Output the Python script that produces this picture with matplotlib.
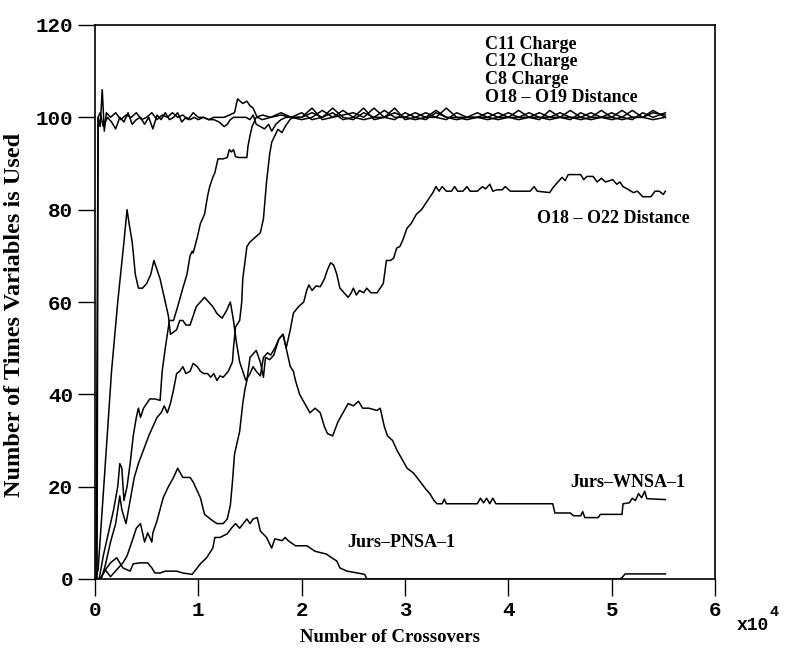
import matplotlib
matplotlib.use("Agg")
import matplotlib.pyplot as plt

# ---- data (x in units of 10^4 crossovers) ----
c11_x = [0.00, 0.01, 0.03, 0.05, 0.07, 0.09, 0.11, 0.15, 0.20, 0.25, 0.30, 0.35, 0.40, 0.45,
         0.50, 0.55, 0.60, 0.65, 0.70, 0.75, 0.80, 0.85, 0.90, 0.95, 1.00, 1.05, 1.10, 1.15,
         1.20, 1.25, 1.30, 1.35, 1.38, 1.43, 1.47, 1.50, 1.53, 1.57, 1.62, 1.70, 1.80, 1.90]
c11_y = [0, 0, 100, 98, 106, 97, 101, 100, 101, 99.5, 100.5, 100, 101, 99.5,
         100, 101, 99.5, 100.5, 100, 101, 100, 100.5, 99.5, 101, 100, 100, 99.5, 100,
         100, 100, 100.5, 101, 104, 103, 103.5, 102.5, 102, 100, 99.5, 100, 100.5, 100]

c12_x = [0.00, 0.02, 0.03, 0.05, 0.08, 0.12, 0.16, 0.20, 0.24, 0.28, 0.32, 0.36, 0.40, 0.44,
         0.48, 0.52, 0.56, 0.60, 0.64, 0.68, 0.72, 0.76, 0.80, 0.84, 0.88, 0.92, 0.96, 1.00,
         1.05, 1.10, 1.15, 1.20, 1.25, 1.28, 1.31, 1.34, 1.38, 1.42, 1.46, 1.50, 1.53, 1.56,
         1.60, 1.64, 1.68, 1.71, 1.75, 1.80, 1.85, 1.90]
c12_y = [0, 0, 100, 101, 98, 100, 99, 97.5, 100, 99, 101, 98.5, 99.5, 100,
         98.5, 100, 97.5, 100.5, 99.5, 101, 99.5, 100, 101, 99, 100, 99.5, 100, 99.5,
         100, 99.5, 99.5, 99, 98, 98.5, 99.5, 100, 100, 100, 100, 99.5, 100.5, 98.5,
         98, 97.5, 98.5, 97, 98.5, 99.5, 100, 100]

c8_x = [0.00, 0.04, 0.08, 0.13, 0.18, 0.22, 0.24, 0.26, 0.28, 0.31, 0.34, 0.37, 0.40, 0.42,
        0.44, 0.47, 0.50, 0.53, 0.58, 0.63, 0.65, 0.68, 0.72, 0.76, 0.80, 0.85, 0.89, 0.92,
        0.94, 0.95, 0.99, 1.02, 1.06, 1.09, 1.11, 1.14, 1.16, 1.19, 1.24, 1.28, 1.30, 1.32,
        1.34, 1.36, 1.39, 1.47, 1.48, 1.50, 1.52, 1.56, 1.62, 1.70, 1.80, 1.90]
c8_y = [0, 0, 5, 10, 15, 20, 25, 24, 17, 20, 25, 31, 35, 37,
        35, 37, 38, 39, 39, 38.7, 45, 50, 56, 56, 59, 63, 66, 70,
        71, 70.6, 74, 77, 79, 83, 85, 87, 88, 91, 91, 91.3, 93, 92.5,
        93, 91.5, 91.3, 91.3, 93.7, 96, 98, 100, 100.5, 100, 101, 100]

o19_x = [0.00, 0.06, 0.10, 0.15, 0.20, 0.24, 0.26, 0.30, 0.34, 0.38, 0.42, 0.47, 0.52, 0.56,
         0.60, 0.64, 0.67, 0.70, 0.73, 0.76, 0.79, 0.82, 0.85, 0.88, 0.92, 0.95, 0.99, 1.02,
         1.05, 1.09, 1.12, 1.15, 1.18, 1.21, 1.24, 1.29, 1.33, 1.34, 1.36, 1.40, 1.42, 1.43,
         1.45, 1.47, 1.50, 1.55, 1.60, 1.63, 1.66, 1.69, 1.71, 1.74, 1.77, 1.81, 1.84, 1.89,
         1.92]
o19_y = [0, 0, 3, 8, 12, 18, 15, 12, 17, 22, 25, 28, 31, 33,
         35, 36, 37.5, 36, 38, 41, 44.5, 45, 46, 44.5, 45, 46.7, 46, 45,
         44.5, 44.5, 43.7, 44.5, 43, 44, 43.7, 45, 47, 50, 54.6, 56, 60, 65,
         68.5, 72, 73, 74, 75, 78, 86, 92, 94.6, 96, 97.4, 96.7, 98, 99.6,
         100]

# the four "charge/distance" curves share the same tail grid
tail_x = [2.0, 2.1, 2.2, 2.3, 2.4, 2.5, 2.6, 2.7, 2.8, 2.9, 3.0, 3.1, 3.2, 3.3, 3.4, 3.5,
          3.6, 3.7, 3.8, 3.9, 4.0, 4.1, 4.2, 4.3, 4.4, 4.5, 4.6, 4.7, 4.8, 4.9, 5.0, 5.1,
          5.2, 5.3, 5.4, 5.52]
c11_tail = [100, 101, 100, 102, 100, 99.5, 101, 100, 101.5, 100, 100, 101, 100, 100, 102, 100,
            100, 100, 101, 100, 100, 101.5, 100, 100, 100, 101, 100, 100, 101, 100, 100, 101.5,
            100, 100, 101, 100.5]
c12_tail = [99.5, 100, 101.5, 100, 100.5, 101, 100, 102, 100, 99.5, 101, 100, 99.5, 101, 100, 99.5,
            100, 101, 100, 99.5, 100, 100, 101, 100, 99.5, 100, 101.5, 100, 99.5, 100, 101, 100,
            99.5, 101, 100, 101]
c8_tail = [101, 99.5, 100, 101, 99.5, 100, 102, 99.5, 100, 101, 100, 99.5, 100, 101.5, 100, 100,
           99.5, 100, 100, 101, 100, 99.5, 100, 101, 100, 100, 99.5, 101, 100, 100, 99.5, 100,
           101.5, 100, 99.5, 100]
o19_tail = [100, 102, 99.5, 100, 101.5, 100, 99.5, 100, 100, 102, 99.5, 100, 101, 100, 99.5, 101,
            100, 100, 99.5, 100, 101, 100, 100, 99.5, 101.5, 100, 100, 99.5, 100, 101.5, 100, 99.5,
            100, 100, 101.5, 100]

o22_x = [0.00, 0.05, 0.10, 0.15, 0.21, 0.27, 0.31, 0.35, 0.40, 0.44, 0.48, 0.51, 0.55, 0.56,
         0.60, 0.66, 0.71, 0.76, 0.80, 0.85, 0.92, 0.95, 1.02, 1.06, 1.14, 1.18, 1.24, 1.28,
         1.31, 1.33, 1.35, 1.37, 1.40, 1.43, 1.45, 1.47, 1.50, 1.56, 1.60, 1.63, 1.65, 1.69,
         1.73, 1.78, 1.82, 1.85, 1.89, 1.92, 1.97, 2.02, 2.05, 2.07, 2.10, 2.14, 2.18, 2.22,
         2.25, 2.28, 2.31, 2.34, 2.37, 2.41, 2.45, 2.48, 2.50, 2.53, 2.56, 2.60, 2.63, 2.67,
         2.73, 2.79, 2.82, 2.86, 2.89, 2.92, 2.95, 2.98, 3.02, 3.06, 3.11, 3.16, 3.22, 3.27,
         3.30, 3.33, 3.36, 3.40, 3.45, 3.48, 3.51, 3.56, 3.60, 3.63, 3.70, 3.75, 3.78, 3.82,
         3.85, 3.89, 3.94, 3.97, 4.02, 4.21, 4.25, 4.28, 4.40, 4.44, 4.48, 4.52, 4.55, 4.58,
         4.70, 4.73, 4.76, 4.82, 4.86, 4.90, 4.94, 5.01, 5.05, 5.08, 5.11, 5.15, 5.21, 5.25,
         5.30, 5.38, 5.42, 5.46, 5.50, 5.52]
o22_y = [0, 0, 2, 0.5, 2, 3.5, 5, 7.6, 11, 12, 8, 10, 8, 10,
         12.6, 17.6, 20, 22, 24, 22, 22, 21, 17.6, 14, 12.6, 12, 12, 13,
         16, 21, 27, 29, 32, 38, 41, 43, 48, 49.5, 47, 43.7, 48, 47.5,
         48.5, 52, 53, 50, 54, 57.6, 59, 60, 62.6, 63.7, 62.5, 63.5, 63.3, 65,
         67, 68.5, 68, 66, 63, 62, 61, 62, 63, 61.5, 62.5, 62, 63, 62,
         62, 64, 69, 69, 69.5, 71.7, 72, 73.5, 76, 77, 79, 80, 82, 83.7,
         85, 84, 85, 84, 84, 85, 84, 84, 85, 84, 84, 85, 84.5, 85.5,
         84, 84.3, 84.3, 85, 84, 84, 85, 84, 83.7, 85, 86, 87, 86.3, 87.6,
         87.6, 86.5, 87.2, 87.2, 86, 86.8, 86, 86.5, 85.5, 86, 85, 84.5, 83.7, 84,
         82.8, 82.8, 84, 84, 83.3, 84]

wnsa_x = [0.00, 0.03, 0.10, 0.16, 0.22, 0.28, 0.31, 0.33, 0.36, 0.39, 0.42, 0.46, 0.50, 0.54,
          0.57, 0.60, 0.63, 0.67, 0.71, 0.73, 0.76, 0.79, 0.82, 0.85, 0.88, 0.92, 0.95, 0.98,
          1.02, 1.06, 1.10, 1.14, 1.18, 1.23, 1.27, 1.31, 1.34, 1.37, 1.40, 1.43, 1.46, 1.50,
          1.53, 1.56, 1.60, 1.63, 1.67, 1.70, 1.74, 1.78, 1.82, 1.85, 1.89, 1.92, 1.94, 1.98,
          2.03, 2.08, 2.13, 2.18, 2.22, 2.25, 2.30, 2.35, 2.40, 2.45, 2.50, 2.55, 2.59, 2.65,
          2.73, 2.76, 2.80, 2.83, 2.88, 2.92, 2.97, 3.02, 3.08, 3.15, 3.20, 3.24, 3.28, 3.31,
          3.36, 3.38, 3.40, 3.70, 3.73, 3.76, 3.79, 3.82, 3.85, 3.88, 4.43, 4.45, 4.60, 4.63,
          4.70, 4.72, 4.74, 4.87, 4.89, 5.10, 5.11, 5.17, 5.20, 5.23, 5.26, 5.29, 5.32, 5.34,
          5.52]
wnsa_y = [0, 2, 25, 45, 60, 73, 80, 77, 73, 66, 63, 63, 64, 66,
          69, 67, 65, 61, 57, 53, 53.5, 54, 56, 56, 55, 55, 57, 59,
          60, 61, 60, 59, 57.5, 56.5, 58, 60, 56, 51, 47, 45, 43, 44.5,
          46, 45, 44, 48, 49, 48.5, 50, 52, 53, 50, 46, 45, 43, 40,
          38, 36, 37, 36, 33, 31.5, 31, 34, 36, 38, 37.5, 38.5, 37, 37,
          36.5, 37, 33, 31, 30, 28, 26, 24, 23, 21, 19.5, 18.5, 17, 16.3,
          16.3, 17.3, 16.3, 16.3, 17.5, 16.5, 17.5, 16.3, 17.5, 16.3, 16.3, 14.3, 14.3, 13.7,
          13.7, 14.6, 13.3, 13.3, 14, 14, 16.3, 16.5, 17.5, 17, 18.5, 17.6, 19, 17.4,
          17.2]

pnsa_x = [0.00, 0.05, 0.10, 0.15, 0.21, 0.27, 0.34, 0.37, 0.44, 0.51, 0.55, 0.58, 0.63, 0.68,
          0.79, 0.85, 0.94, 1.02, 1.08, 1.14, 1.16, 1.21, 1.28, 1.32, 1.36, 1.40, 1.47, 1.50,
          1.53, 1.57, 1.60, 1.66, 1.71, 1.74, 1.81, 1.84, 1.87, 1.94, 2.05, 2.13, 2.24, 2.29,
          2.34, 2.37, 2.44, 2.54, 2.61, 2.63, 5.08, 5.10, 5.13, 5.52]
pnsa_y = [0, 0, 2, 3.5, 4.6, 2.4, 1.7, 3.3, 3.5, 3.5, 2.4, 1.3, 1.3, 1.7,
          1.7, 1.3, 1, 3.3, 4.6, 6.7, 9, 9, 9.8, 11, 12, 11, 13, 12,
          13, 13.3, 10.4, 9, 6.7, 8.7, 8.3, 9, 8.3, 7.2, 7.2, 6, 5.4, 4.6,
          3.9, 2.4, 1.7, 1.3, 1, 0, 0, 0.3, 1.1, 1.1]

x_ticks = [0, 1, 2, 3, 4, 5, 6]
y_ticks = [0, 20, 40, 60, 80, 100, 120]

mono = "Liberation Mono"
serif = "Liberation Serif"

fig = plt.figure(figsize=(7.85, 6.48), dpi=100)
ax = fig.add_axes([95 / 785, 1 - 579 / 648, 620 / 785, 554 / 648])

lw = 1.1
ax.plot(c11_x + tail_x, c11_y + c11_tail, color="black", lw=lw)
ax.plot(c12_x + tail_x, c12_y + c12_tail, color="black", lw=lw)
ax.plot(c8_x + tail_x, c8_y + c8_tail, color="black", lw=lw)
ax.plot(o19_x + tail_x, o19_y + o19_tail, color="black", lw=lw)
ax.plot(o22_x, o22_y, color="black", lw=lw)
ax.plot(wnsa_x, wnsa_y, color="black", lw=lw)
ax.plot(pnsa_x, pnsa_y, color="black", lw=lw)

ax.set_xlim(0, 6)
ax.set_ylim(0, 120)
ax.set_xticks(x_ticks)
ax.set_yticks(y_ticks)
ax.tick_params(direction="out", length=12, width=1, pad=4)
for lab in ax.get_xticklabels() + ax.get_yticklabels():
    lab.set_fontfamily(mono)
    lab.set_fontweight("bold")
    lab.set_fontsize(15)
for sp in ax.spines.values():
    sp.set_linewidth(1.2)

# curve labels
lab_kw = dict(family=serif, weight="bold", fontsize=13, va="center", ha="left")
ax.text(3.77, 115.7, "C11 Charge", **lab_kw)
ax.text(3.77, 112.0, "C12 Charge", **lab_kw)
ax.text(3.77, 108.3, "C8 Charge", **lab_kw)
ax.text(3.77, 104.4, "O18 \u2013 O19 Distance", **lab_kw)
ax.text(4.28, 78.0, "O18 \u2013 O22 Distance", **lab_kw)
ax.text(4.60, 21.0, "Jurs\u2013WNSA\u20131", **lab_kw)
ax.text(2.44, 8.0, "Jurs\u2013PNSA\u20131", **lab_kw)

# axis titles
fig.text(390 / 785, 1 - 638 / 648, "Number of Crossovers", family=serif, weight="bold",
         fontsize=13.5, ha="center", va="center")
fig.text(15 / 785, 1 - 315 / 648, "Number of Times Variables is Used", family=serif,
         weight="bold", fontsize=17.5, rotation=90, ha="center", va="center")
fig.text(737 / 785, 1 - 625 / 648, "x10", family=mono, weight="bold", fontsize=13,
         ha="left", va="center")
fig.text(770 / 785, 1 - 612 / 648, "4", family=mono, weight="bold", fontsize=11,
         ha="left", va="center")

fig.savefig("out.png", dpi=100)
